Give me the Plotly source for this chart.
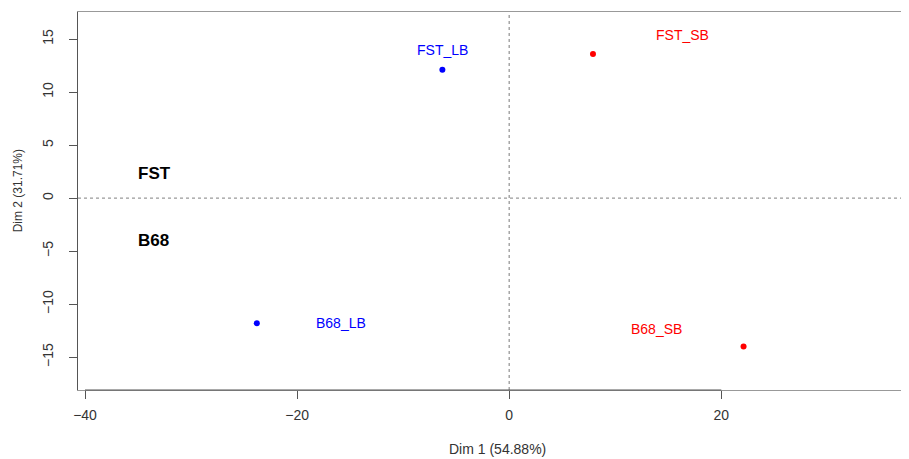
import plotly.graph_objects as go

# Data
names = ["FST_LB", "FST_SB", "B68_LB", "B68_SB"]
dim1 = [-6.3, 7.9, -23.8, 22.1]
dim2 = [12.1, 13.6, -11.8, -14.0]
colors = ["#0000FF", "#FF0000", "#0000FF", "#FF0000"]
label_x = [-6.3, 16.3, -15.9, 13.9]
label_y = [14.0, 15.4, -11.8, -12.3]
group_names = ["FST", "B68"]
group_x = [-33.4, -33.5]
group_y = [2.3, -4.0]
x_ticks = [-40, -20, 0, 20]
y_ticks = [-15, -10, -5, 0, 5, 10, 15]

FONT = "Liberation Sans, Arial, Helvetica, sans-serif"

fig = go.Figure()
fig.add_trace(go.Scatter(
    x=dim1, y=dim2, mode="markers",
    marker=dict(color=colors, size=6),
    showlegend=False, hoverinfo="skip",
))

for n, lx, ly, c in zip(names, label_x, label_y, colors):
    fig.add_annotation(x=lx, y=ly, text=n, showarrow=False,
                       font=dict(family=FONT, size=14, color=c))
for g, gx, gy in zip(group_names, group_x, group_y):
    fig.add_annotation(x=gx, y=gy, text="<b>" + g + "</b>", showarrow=False,
                       font=dict(family=FONT, size=17, color="black"))

# dashed reference lines
fig.add_shape(type="line", xref="x", yref="paper", x0=0, x1=0, y0=0, y1=1,
              line=dict(color="#999999", width=1.3, dash="3px,3px"))
fig.add_shape(type="line", xref="paper", yref="y", x0=0, x1=1, y0=0, y1=0,
              line=dict(color="#999999", width=1.3, dash="3px,3px"))
# axis line from first to last tick (R style)
fig.add_shape(type="line", xref="x", yref="paper", x0=x_ticks[0], x1=x_ticks[-1], y0=0, y1=0,
              line=dict(color="#555555", width=1.2))

# axis titles
fig.add_annotation(xref="paper", yref="paper", x=0.505, y=-0.157, yanchor="middle",
                   text="Dim 1 (54.88%)", showarrow=False, borderpad=0,
                   font=dict(family=FONT, size=14, color="#333333"))
fig.add_annotation(xref="paper", yref="paper", x=-0.072, y=0.526, xanchor="center",
                   yanchor="middle",
                   text="Dim 2 (31.71%)", showarrow=False, textangle=-90,
                   font=dict(family=FONT, size=12, color="#333333"))

# page body has an 8px margin; figure sized so that it fills the 909x459 window
fig.update_layout(
    width=901, height=451,
    margin=dict(l=70, r=0, t=4, b=69),
    paper_bgcolor="white", plot_bgcolor="white",
    font=dict(family=FONT, size=14, color="#333333"),
    xaxis=dict(range=[-40.66, 37.7], tickvals=x_ticks, ticks="outside", ticklen=8,
               tickcolor="#555555", showgrid=False, zeroline=False, automargin=False,
               showline=True, linecolor="#999999", linewidth=1, mirror=True,
               ticklabelstandoff=4,
               tickfont=dict(size=14, color="#333333")),
    yaxis=dict(range=[-18.1, 17.55], tickvals=y_ticks, ticks="outside", ticklen=8,
               tickcolor="#555555", showgrid=False, zeroline=False, automargin=False,
               showline=True, linecolor="#555555", linewidth=1.2,
               ticklabelstandoff=10,
               tickangle=-90, tickfont=dict(size=14, color="#333333")),
)

fig.write_html("out.html")
